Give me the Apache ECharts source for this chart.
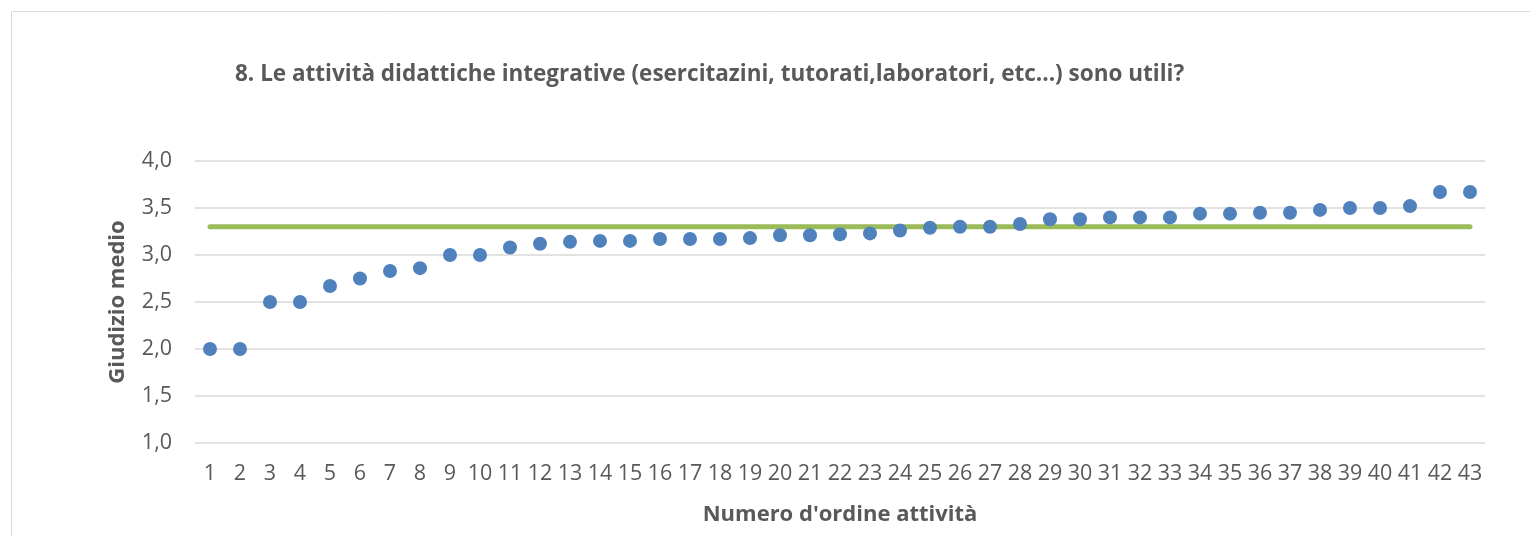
<!DOCTYPE html>
<html><head><meta charset="utf-8">
<script src="https://cdn.jsdelivr.net/npm/echarts@6/dist/echarts.min.js"></script>
<style>html,body{margin:0;padding:0;background:#fff}#c{width:1530px;height:536px}</style>
</head><body><div id="c"></div>
<script>
const categories = ['1','2','3','4','5','6','7','8','9','10','11','12','13','14','15','16','17','18','19','20','21','22','23','24','25','26','27','28','29','30','31','32','33','34','35','36','37','38','39','40','41','42','43'];
const scores = [2.00,2.00,2.50,2.50,2.67,2.75,2.83,2.86,3.00,3.00,3.08,3.12,3.14,3.15,3.15,3.17,3.17,3.17,3.18,3.21,3.21,3.22,3.23,3.26,3.29,3.30,3.30,3.33,3.38,3.38,3.40,3.40,3.40,3.44,3.44,3.45,3.45,3.48,3.50,3.50,3.52,3.67,3.67];
const average = [3.30,3.30,3.30,3.30,3.30,3.30,3.30,3.30,3.30,3.30,3.30,3.30,3.30,3.30,3.30,3.30,3.30,3.30,3.30,3.30,3.30,3.30,3.30,3.30,3.30,3.30,3.30,3.30,3.30,3.30,3.30,3.30,3.30,3.30,3.30,3.30,3.30,3.30,3.30,3.30,3.30,3.30,3.30];
const yTicks = [1.0,1.5,2.0,2.5,3.0,3.5,4.0];
const titleText = "8. Le attività didattiche integrative (esercitazini, tutorati,laboratori, etc...) sono utili?";
const font = '"Open Sans", sans-serif';
const chart = echarts.init(document.getElementById('c'));
chart.setOption({
  animation:false,
  backgroundColor:'#fff',
  graphic:[{type:'rect',shape:{x:11.5,y:11.5,width:1600,height:600},style:{fill:'none',stroke:'#d9d9d9',lineWidth:1},z:-1}],
  title:{text:titleText,left:230,top:58,textStyle:{fontFamily:font,fontSize:22.5,fontWeight:'bold',color:'#595959'}},
  grid:{left:195,right:45,top:161,bottom:93},
  xAxis:{type:'category',data:categories,boundaryGap:true,
    name:"Numero d'ordine attività",nameLocation:'middle',nameGap:61,
    nameTextStyle:{fontFamily:font,fontSize:22,fontWeight:'bold',color:'#595959'},
    axisLine:{show:false},axisTick:{show:false},
    axisLabel:{fontFamily:font,fontSize:21.5,color:'#595959',margin:20,interval:0}},
  yAxis:{type:'value',min:yTicks[0],max:yTicks[yTicks.length-1],interval:0.5,
    name:'Giudizio medio',nameLocation:'middle',nameGap:66,nameRotate:90,
    nameTextStyle:{fontFamily:font,fontSize:22,fontWeight:'bold',color:'#595959'},
    axisLine:{show:false},axisTick:{show:false},
    splitLine:{lineStyle:{color:'#d9d9d9',width:1.5}},
    axisLabel:{fontFamily:font,fontSize:21.5,color:'#595959',margin:23,formatter:v=>v.toFixed(1).replace('.',',')}},
  series:[
    {type:'line',data:average,symbol:'none',lineStyle:{color:'#9BBB59',width:5,cap:'round'},z:1},
    {type:'scatter',data:scores,symbol:'circle',symbolSize:14,itemStyle:{color:'#4F81BD',opacity:1},z:2}
  ]
});
</script></body></html>
